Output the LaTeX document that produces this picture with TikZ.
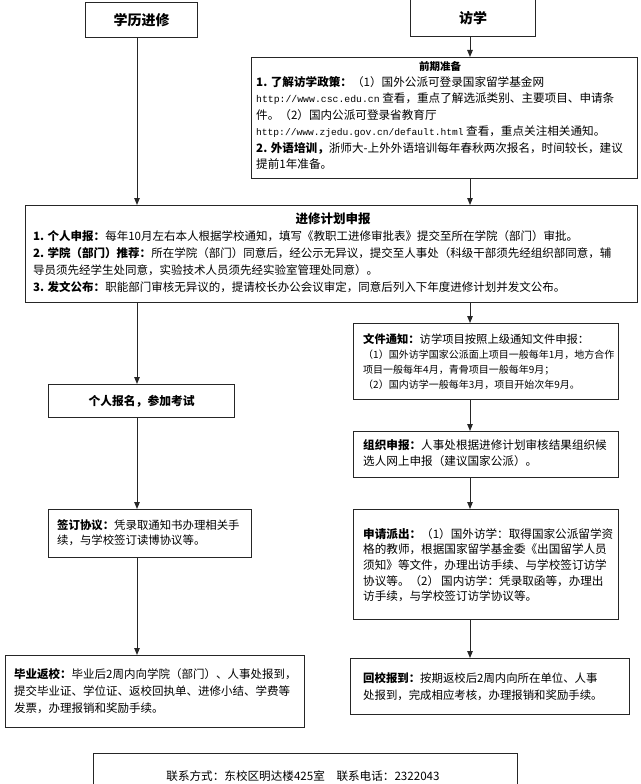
\documentclass[tikz,border=0pt]{standalone}
\usepackage{fontspec}
\setmainfont{Noto Sans CJK SC}
\newfontfamily\urlfont{Liberation Mono}
\usetikzlibrary{arrows.meta}
\tikzset{
  box/.style={draw=black!85, line width=1.2pt, fill=white, anchor=north west, inner sep=0pt},
  txt/.style={anchor=north west, inner sep=0pt, align=left, font=\fontsize{11.6}{16.5}\selectfont},
  arr/.style={draw=black!85, line width=1pt, -{Triangle[length=7pt,width=5.5pt]}},
}
\begin{document}
\begin{tikzpicture}[x=1pt,y=-1pt]
\useasboundingbox (0,0) rectangle (640,784);
\clip (0,0) rectangle (640,784);
% boxes
\node[box, minimum width=112pt, minimum height=35pt, font=\fontsize{14}{16}\selectfont\bfseries] (xl) at (85,2) {学历进修};
\node[box, minimum width=125pt, minimum height=37pt, font=\fontsize{14}{16}\selectfont\bfseries] (fx) at (410,-1) {访学};
\node[box, minimum width=386pt, minimum height=121pt] (pre) at (251,57) {};
\node[box, minimum width=612pt, minimum height=97pt] (jh) at (25,205) {};
\node[box, minimum width=265pt, minimum height=76pt] (wj) at (353,323) {};
\node[box, minimum width=186pt, minimum height=33pt, font=\fontsize{11.8}{14}\selectfont\bfseries] (gr) at (48,384) {个人报名，参加考试};
\node[box, minimum width=265pt, minimum height=46pt] (zz) at (353,431) {};
\node[box, minimum width=203pt, minimum height=48pt] (qd) at (48,509) {};
\node[box, minimum width=265pt, minimum height=110pt] (sq) at (353,509) {};
\node[box, minimum width=299pt, minimum height=72pt] (by) at (5,655) {};
\node[box, minimum width=279pt, minimum height=56pt] (hx) at (350,658) {};
\node[box, minimum width=424pt, minimum height=60pt] (lx) at (93,753) {};
% texts
\node[anchor=center, inner sep=0pt, font=\fontsize{10.5}{12}\selectfont\bfseries] (pre-h) at (440,66) {前期准备};
\node[txt] (pre-t) at (256,76) {\textbf{1. 了解访学政策：}（1）国外公派可登录国家留学基金网\\
{\urlfont\fontsize{9.8}{11}\selectfont http://www.csc.edu.cn} 查看，重点了解选派类别、主要项目、申请条\\
件。（2）国内公派可登录省教育厅\\
{\urlfont\fontsize{9.6}{11}\selectfont http://www.zjedu.gov.cn/default.html} 查看，重点关注相关通知。\\
\textbf{2. 外语培训，}浙师大-上外外语培训每年春秋两次报名，时间较长，建议\\
提前1年准备。};
\node[anchor=center, inner sep=0pt, font=\fontsize{12.5}{14}\selectfont\bfseries] (jh-h) at (333,219) {进修计划申报};
\node[txt, font=\fontsize{11.5}{17}\selectfont] (jh-t) at (33,230) {\textbf{1. 个人申报：}每年10月左右本人根据学校通知，填写《教职工进修审批表》提交至所在学院（部门）审批。\\
\textbf{2. 学院（部门）推荐：}所在学院（部门）同意后，经公示无异议，提交至人事处（科级干部须先经组织部同意，辅\\
导员须先经学生处同意，实验技术人员须先经实验室管理处同意）。\\
\textbf{3. 发文公布：}职能部门审核无异议的，提请校长办公会议审定，同意后列入下年度进修计划并发文公布。};
\node[txt, font=\fontsize{11.3}{15}\selectfont] (wj-t) at (363,333) {\textbf{文件通知：}访学项目按照上级通知文件申报：\\
{\fontsize{10}{15}\selectfont（1）国外访学国家公派面上项目一般每年1月，地方合作}\\
{\fontsize{10}{15}\selectfont 项目一般每年4月，青骨项目一般每年9月；}\\
{\fontsize{10}{15}\selectfont（2）国内访学一般每年3月，项目开始次年9月。}};
\node[txt, font=\fontsize{11.6}{16}\selectfont] (zz-t) at (363,439) {\textbf{组织申报：}人事处根据进修计划审核结果组织候\\
选人网上申报（建议国家公派）。};
\node[txt, font=\fontsize{11.4}{15.5}\selectfont] (qd-t) at (57,519) {\textbf{签订协议：}凭录取通知书办理相关手\\
续，与学校签订读博协议等。};
\node[txt, font=\fontsize{11.6}{15.7}\selectfont] (sq-t) at (363,528) {\textbf{申请派出：}（1）国外访学：取得国家公派留学资\\
格的教师，根据国家留学基金委《出国留学人员\\
须知》等文件，办理出访手续、与学校签订访学\\
协议等。（2）\,国内访学：凭录取函等，办理出\\
访手续，与学校签订访学协议等。};
\node[txt, font=\fontsize{11.5}{17.3}\selectfont] (by-t) at (14,668) {\textbf{毕业返校：}毕业后2周内向学院（部门）、人事处报到，\\
提交毕业证、学位证、返校回执单、进修小结、学费等\\
发票，办理报销和奖励手续。};
\node[txt, font=\fontsize{11.4}{17}\selectfont] (hx-t) at (363,672) {\textbf{回校报到：}按期返校后2周内向所在单位、人事\\
处报到，完成相应考核，办理报销和奖励手续。};
\node[anchor=center, inner sep=0pt, font=\fontsize{11.6}{14}\selectfont] (lx-t) at (303,776) {联系方式：东校区明达楼425室\quad 联系电话：2322043};
% connectors
\coordinate (cl) at (137,0);
\coordinate (cr) at (470,0);
\draw[arr] (fx.south -| cr) -- (pre.north -| cr);
\draw[arr] (pre.south -| cr) -- (jh.north -| cr);
\draw[arr] (xl.south -| cl) -- (jh.north -| cl);
\draw[arr] (jh.south -| cl) -- (gr.north -| cl);
\draw[arr] (jh.south -| cr) -- (wj.north -| cr);
\draw[arr] (gr.south -| cl) -- (qd.north -| cl);
\draw[arr] (qd.south -| cl) -- (by.north -| cl);
\draw[arr] (wj.south -| cr) -- (zz.north -| cr);
\draw[arr] (zz.south -| cr) -- (sq.north -| cr);
\draw[arr] (sq.south -| cr) -- (hx.north -| cr);
\end{tikzpicture}
\end{document}
